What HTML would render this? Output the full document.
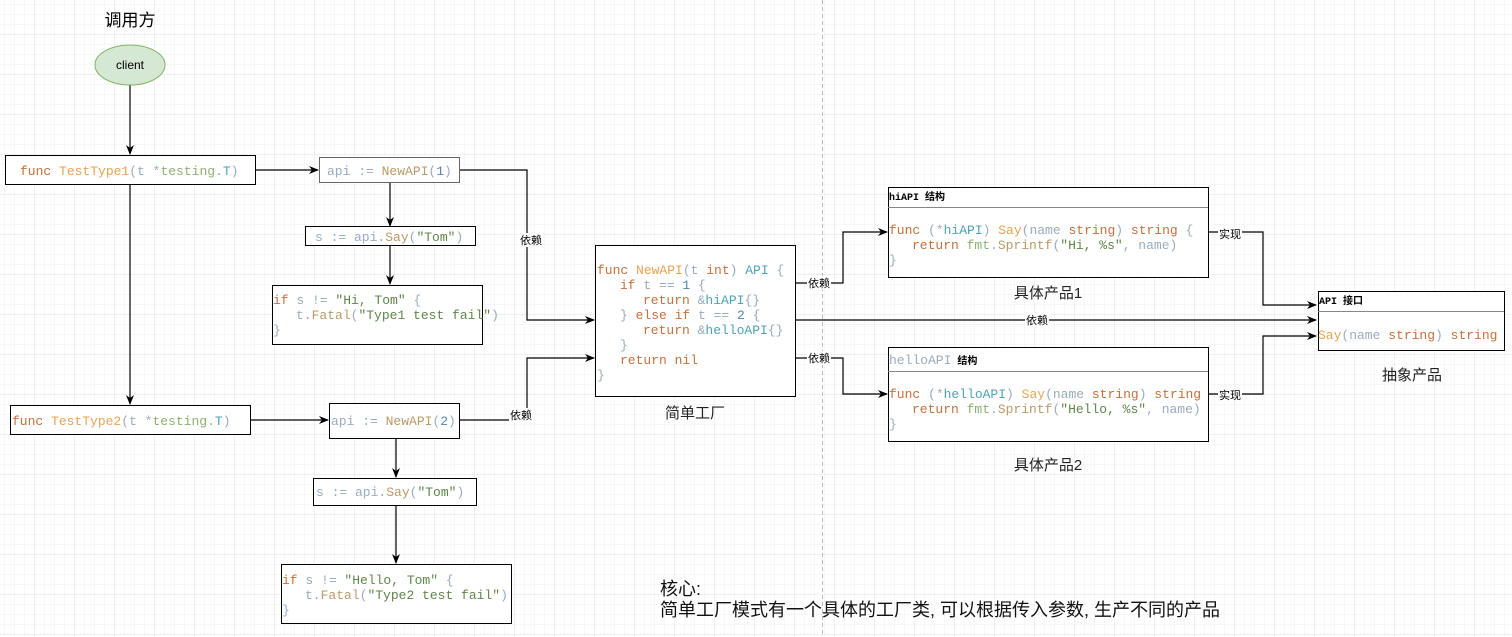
<!DOCTYPE html>
<html><head><meta charset="utf-8"><style>
html,body{margin:0;padding:0;background:#fff}
svg{display:block}
.m{font-family:"Liberation Mono",monospace;font-size:13px}
.k{fill:#c6703c}.f{fill:#e8a253}.p{fill:#9aabbd}.s{fill:#5f8548}.t{fill:#4ea3b3}.n{fill:#4f87b3}
.cj{font-family:"Liberation Sans","Noto Sans CJK SC",sans-serif}
</style></head><body>
<svg width="1512" height="637" xmlns="http://www.w3.org/2000/svg">
<defs>
<pattern id="mi" width="10" height="10" patternUnits="userSpaceOnUse" x="5" y="5"><path d="M10 0V10M0 10H10" stroke="#efefef" stroke-width="1" fill="none"/></pattern>
<pattern id="ma" width="40" height="40" patternUnits="userSpaceOnUse" x="-5" y="-5"><path d="M40 0V40M0 40H40" stroke="#e0e0e0" stroke-width="1" fill="none"/></pattern>
<marker id="a" markerWidth="10" markerHeight="10" refX="9" refY="5" orient="auto" markerUnits="userSpaceOnUse"><path d="M0 1L10 5L0 9L3 5Z" fill="#000"/></marker>
</defs>
<rect width="1512" height="637" fill="url(#mi)"/>
<rect width="1512" height="637" fill="url(#ma)"/>
<line x1="822.5" y1="0" x2="822.5" y2="637" stroke="#bbb" stroke-dasharray="4,3"/>

<g fill="none" stroke="#000" stroke-width="1.2">
<path d="M130 85V154" marker-end="url(#a)"/>
<path d="M255 170H318" marker-end="url(#a)"/>
<path d="M390 182V226" marker-end="url(#a)"/>
<path d="M390 245V284" marker-end="url(#a)"/>
<path d="M459 170H527V320H594" marker-end="url(#a)"/>
<path d="M130 184V404" marker-end="url(#a)"/>
<path d="M250 420H328" marker-end="url(#a)"/>
<path d="M459 420H527V358H594" marker-end="url(#a)"/>
<path d="M396 438V477" marker-end="url(#a)"/>
<path d="M396 505V563" marker-end="url(#a)"/>
<path d="M795 283H843V232H887" marker-end="url(#a)"/>
<path d="M795 320H1316" marker-end="url(#a)"/>
<path d="M795 358H843V394H887" marker-end="url(#a)"/>
<path d="M1208 232H1263V305H1316" marker-end="url(#a)"/>
<path d="M1208 394H1263V336H1316" marker-end="url(#a)"/>
</g>

<g font-size="11" class="cj" text-anchor="middle">
<rect x="519" y="233" width="24" height="14" fill="#fff"/><text x="531" y="244">依赖</text>
<rect x="509" y="408" width="24" height="14" fill="#fff"/><text x="521" y="419">依赖</text>
<rect x="807" y="276" width="24" height="14" fill="#fff"/><text x="819" y="287">依赖</text>
<rect x="1025" y="313" width="24" height="14" fill="#fff"/><text x="1037" y="324">依赖</text>
<rect x="807" y="351" width="24" height="14" fill="#fff"/><text x="819" y="362">依赖</text>
<rect x="1218" y="226" width="24" height="14" fill="#fff"/><text x="1230" y="238">实现</text>
<rect x="1218" y="387" width="24" height="14" fill="#fff"/><text x="1230" y="399">实现</text>
</g>

<text x="130" y="26" class="cj" font-size="17" text-anchor="middle">调用方</text>
<ellipse cx="130" cy="65" rx="35" ry="20" fill="#d5e8d4" stroke="#82b366"/>
<text x="130" y="69" font-family="Liberation Sans,sans-serif" font-size="12" text-anchor="middle">client</text>

<g fill="#fff" stroke="#000" stroke-width="1">
<rect x="5.5" y="155.5" width="250" height="29"/>
<rect x="319.5" y="157.5" width="140" height="25" stroke="#666"/>
<rect x="305.5" y="226.5" width="170" height="19"/>
<rect x="272.5" y="285.5" width="210" height="59"/>
<rect x="10.5" y="405.5" width="240" height="29"/>
<rect x="329.5" y="403.5" width="130" height="35"/>
<rect x="313.5" y="478.5" width="163" height="27"/>
<rect x="281.5" y="564.5" width="230" height="59"/>
<rect x="595.5" y="245.5" width="200" height="151"/>
<rect x="888.5" y="187.5" width="320" height="90"/>
<rect x="888.5" y="347.5" width="320" height="94"/>
<rect x="1318.5" y="291.5" width="186" height="59"/>
</g>
<g stroke="#888"><path d="M888 207.5H1208M888 371.5H1208M1318 311.5H1504"/></g>

<g class="m">
<text x="20" y="175"><tspan class="k">func</tspan><tspan class="f">&#160;TestType1</tspan><tspan class="p">(t&#160;*</tspan><tspan fill="#8fb070">testing</tspan><tspan class="p">.</tspan><tspan class="t">T</tspan><tspan class="p">)</tspan></text>
<text x="327" y="175"><tspan class="p">api&#160;:=&#160;</tspan><tspan fill="#b89a6a">NewAPI</tspan><tspan class="p">(</tspan><tspan class="n">1</tspan><tspan class="p">)</tspan></text>
<text x="315" y="241"><tspan class="p">s&#160;:=&#160;api.</tspan><tspan fill="#b89a6a">Say</tspan><tspan class="p">(</tspan><tspan class="s">"Tom"</tspan><tspan class="p">)</tspan></text>
<text x="273" y="304"><tspan class="k">if</tspan><tspan class="p">&#160;s&#160;!=&#160;</tspan><tspan class="s">"Hi,&#160;Tom"</tspan><tspan class="p">&#160;{</tspan></text>
<text x="296" y="319"><tspan class="p">t.</tspan><tspan fill="#b89a6a">Fatal</tspan><tspan class="p">(</tspan><tspan class="s">"Type1&#160;test&#160;fail"</tspan><tspan class="p">)</tspan></text>
<text x="273" y="334" class="p">}</text>

<text x="12" y="425"><tspan class="k">func</tspan><tspan class="f">&#160;TestType2</tspan><tspan class="p">(t&#160;*</tspan><tspan fill="#8fb070">testing</tspan><tspan class="p">.</tspan><tspan class="t">T</tspan><tspan class="p">)</tspan></text>
<text x="331" y="425"><tspan class="p">api&#160;:=&#160;</tspan><tspan fill="#b89a6a">NewAPI</tspan><tspan class="p">(</tspan><tspan class="n">2</tspan><tspan class="p">)</tspan></text>
<text x="316" y="496"><tspan class="p">s&#160;:=&#160;api.</tspan><tspan fill="#b89a6a">Say</tspan><tspan class="p">(</tspan><tspan class="s">"Tom"</tspan><tspan class="p">)</tspan></text>
<text x="282" y="584"><tspan class="k">if</tspan><tspan class="p">&#160;s&#160;!=&#160;</tspan><tspan class="s">"Hello,&#160;Tom"</tspan><tspan class="p">&#160;{</tspan></text>
<text x="305" y="599"><tspan class="p">t.</tspan><tspan fill="#b89a6a">Fatal</tspan><tspan class="p">(</tspan><tspan class="s">"Type2&#160;test&#160;fail"</tspan><tspan class="p">)</tspan></text>
<text x="282" y="614" class="p">}</text>

<text x="597" y="274"><tspan class="k">func</tspan><tspan class="f">&#160;NewAPI</tspan><tspan class="p">(t&#160;</tspan><tspan class="k">int</tspan><tspan class="p">)&#160;</tspan><tspan class="t">API</tspan><tspan class="p">&#160;{</tspan></text>
<text x="620" y="289"><tspan class="k">if</tspan><tspan class="p">&#160;t&#160;==&#160;</tspan><tspan class="n">1</tspan><tspan class="p">&#160;{</tspan></text>
<text x="643" y="304"><tspan class="k">return</tspan><tspan class="p">&#160;&amp;</tspan><tspan class="t">hiAPI</tspan><tspan class="p">{}</tspan></text>
<text x="620" y="319"><tspan class="p">}&#160;</tspan><tspan class="k">else&#160;if</tspan><tspan class="p">&#160;t&#160;==&#160;</tspan><tspan class="n">2</tspan><tspan class="p">&#160;{</tspan></text>
<text x="643" y="334"><tspan class="k">return</tspan><tspan class="p">&#160;&amp;</tspan><tspan class="t">helloAPI</tspan><tspan class="p">{}</tspan></text>
<text x="620" y="349" class="p">}</text>
<text x="620" y="364" class="k">return&#160;nil</text>
<text x="597" y="379" class="p">}</text>

<text x="889" y="234"><tspan class="k">func</tspan><tspan class="p">&#160;(*</tspan><tspan class="t">hiAPI</tspan><tspan class="p">)&#160;</tspan><tspan class="f">Say</tspan><tspan class="p">(name&#160;</tspan><tspan class="k">string</tspan><tspan class="p">)&#160;</tspan><tspan class="k">string</tspan><tspan class="p">&#160;{</tspan></text>
<text x="912" y="249"><tspan class="k">return</tspan><tspan fill="#8fb070">&#160;fmt</tspan><tspan class="p">.</tspan><tspan fill="#b89a6a">Sprintf</tspan><tspan class="p">(</tspan><tspan class="s">"Hi,&#160;%s"</tspan><tspan class="p">,&#160;name)</tspan></text>
<text x="889" y="264" class="p">}</text>

<text x="889" y="398"><tspan class="k">func</tspan><tspan class="p">&#160;(*</tspan><tspan class="t">helloAPI</tspan><tspan class="p">)&#160;</tspan><tspan class="f">Say</tspan><tspan class="p">(name&#160;</tspan><tspan class="k">string</tspan><tspan class="p">)&#160;</tspan><tspan class="k">string</tspan></text>
<text x="912" y="413"><tspan class="k">return</tspan><tspan fill="#8fb070">&#160;fmt</tspan><tspan class="p">.</tspan><tspan fill="#b89a6a">Sprintf</tspan><tspan class="p">(</tspan><tspan class="s">"Hello,&#160;%s"</tspan><tspan class="p">,&#160;name)</tspan></text>
<text x="889" y="428" class="p">}</text>

<text x="1318" y="339"><tspan class="f">Say</tspan><tspan class="p">(name&#160;</tspan><tspan class="k">string</tspan><tspan class="p">)&#160;</tspan><tspan class="k">string</tspan></text>
</g>

<g font-family="Liberation Mono,'Noto Sans CJK SC',monospace" font-size="10" font-weight="bold">
<text x="889" y="200">hiAPI 结构</text>
<text x="1319" y="304">API 接口</text>
</g>
<text x="889" y="364" font-family="Liberation Mono,monospace" font-size="13" class="p">helloAPI<tspan font-family="Liberation Mono,'Noto Sans CJK SC',monospace" font-size="10" font-weight="bold" fill="#000">&#160;结构</tspan></text>

<g class="cj" font-size="15" text-anchor="middle" fill="#222">
<text x="695" y="418">简单工厂</text>
<text x="1048" y="298">具体产品1</text>
<text x="1048" y="470">具体产品2</text>
<text x="1412" y="380">抽象产品</text>
</g>
<g class="cj" font-size="18" fill="#111">
<text x="660" y="595">核心:</text>
<text x="660" y="616">简单工厂模式有一个具体的工厂类, 可以根据传入参数, 生产不同的产品</text>
</g>
</svg>
</body></html>
